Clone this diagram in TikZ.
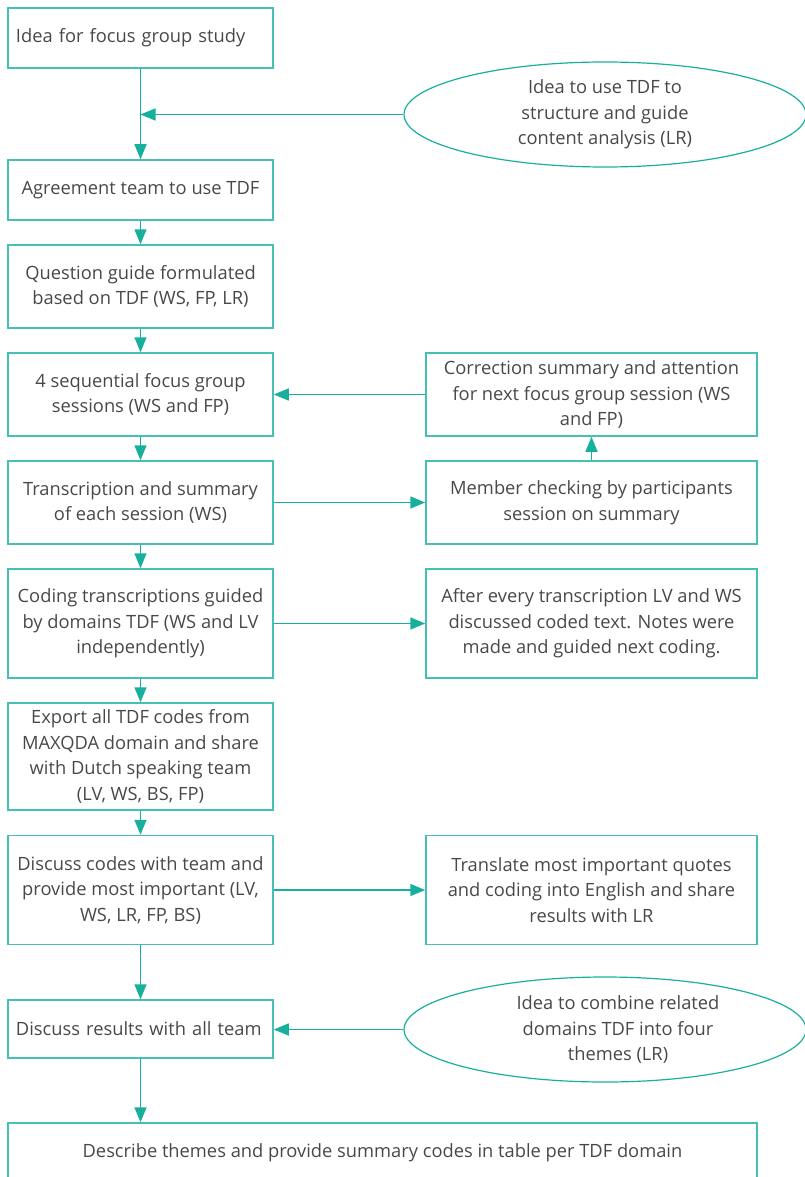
\documentclass[tikz,border=0pt]{standalone}
\usepackage{fontspec}
\setmainfont{Open Sans}
\usetikzlibrary{arrows.meta,shapes.geometric}
\definecolor{linec}{RGB}{23,176,156}
\definecolor{boxc}{RGB}{70,192,178}
\definecolor{txtc}{RGB}{72,72,72}
\tikzset{
  x=1pt, y=-1pt,
  every node/.style={font=\fontsize{18.3}{25.5}\selectfont, text=txtc},
  lbox/.style={draw=boxc, line width=1.5pt, minimum width=265pt, align=center, inner sep=0pt},
  rbox/.style={draw=boxc, line width=1.5pt, minimum width=331pt, align=center, inner sep=0pt},
  lleft/.style={draw=boxc, line width=1.5pt, text width=249pt, align=left, inner xsep=8pt, inner ysep=0pt},
  idea/.style={draw=linec, line width=1.2pt, ellipse, minimum width=402pt, minimum height=105pt, inner sep=0pt, align=center},
  conn/.style={draw=linec, line width=1.5pt, -{Triangle[length=15pt,width=12pt]}},
}
\begin{document}
\begin{tikzpicture}
\useasboundingbox (0,0) rectangle (804,1177);
% left column
\node[lleft, minimum height=60pt] (b1) at (140.5,38) {Idea for focus group study};
\node[lbox, minimum height=60pt] (b2) at (140.5,190) {Agreement team to use TDF};
\node[lbox, minimum height=83pt] (b3) at (140.5,286.5) {Question guide formulated\\based on TDF (WS, FP, LR)};
\node[lbox, minimum height=83pt] (b4) at (140.5,394.5) {4 sequential focus group\\sessions (WS and FP)};
\node[lbox, minimum height=83pt] (b5) at (140.5,502.5) {Transcription and summary\\of each session (WS)};
\node[lbox, minimum height=109pt] (b6) at (140.5,623.5) {Coding transcriptions guided\\by domains TDF (WS and LV\\independently)};
\node[lbox, minimum height=107pt] (b7) at (140.5,756.5) {Export all TDF codes from\\MAXQDA domain and share\\with Dutch speaking team\\(LV, WS, BS, FP)};
\node[lbox, minimum height=109pt] (b8) at (140.5,890) {Discuss codes with team and\\provide most important (LV,\\WS, LR, FP, BS)};
\node[lleft, minimum height=58pt] (b9) at (140.5,1029) {Discuss results with all team};
\node[draw=boxc, line width=1.5pt, minimum width=749pt, minimum height=60pt, inner sep=0pt] (b10) at (382.5,1153) {Describe themes and provide summary codes in table per TDF domain};
% right column
\node[idea] (e1) at (605,114.5) {Idea to use TDF to\\structure and guide\\content analysis (LR)};
\node[rbox, minimum height=83pt] (r1) at (591.5,394.5) {Correction summary and attention\\for next focus group session (WS\\and FP)};
\node[rbox, minimum height=83pt] (r2) at (591.5,502.5) {Member checking by participants\\session on summary};
\node[rbox, minimum height=109pt] (r3) at (591.5,623.5) {After every transcription LV and WS\\discussed coded text. Notes were\\made and guided next coding.};
\node[rbox, minimum height=109pt] (r4) at (591.5,890) {Translate most important quotes\\and coding into English and share\\results with LR};
\node[idea] (e2) at (605,1029.5) {\hspace*{26pt}Idea to combine related\\\hspace*{26pt}domains TDF into four\\\hspace*{26pt}themes (LR)};
% connectors
\draw[conn] (b1) -- (b2);
\draw[conn] (e1.west) -- (e1.west -| b1.south);
\draw[conn] (b2) -- (b3);
\draw[conn] (b3) -- (b4);
\draw[conn] (b4) -- (b5);
\draw[conn] (b5) -- (b6);
\draw[conn] (b6) -- (b7);
\draw[conn] (b7) -- (b8);
\draw[conn] (b8) -- (b9);
\draw[conn] (b9.south) -- (b9.south |- b10.north);
\draw[conn] (r1.west) -- (r1.west -| b4.east);
\draw[conn] (b5.east) -- (b5.east -| r2.west);
\draw[conn] (r2) -- (r1);
\draw[conn] (b6.east) -- (b6.east -| r3.west);
\draw[conn] (b8.east) -- (b8.east -| r4.west);
\draw[conn] (e2.west) -- (e2.west -| b9.east);
\end{tikzpicture}
\end{document}
